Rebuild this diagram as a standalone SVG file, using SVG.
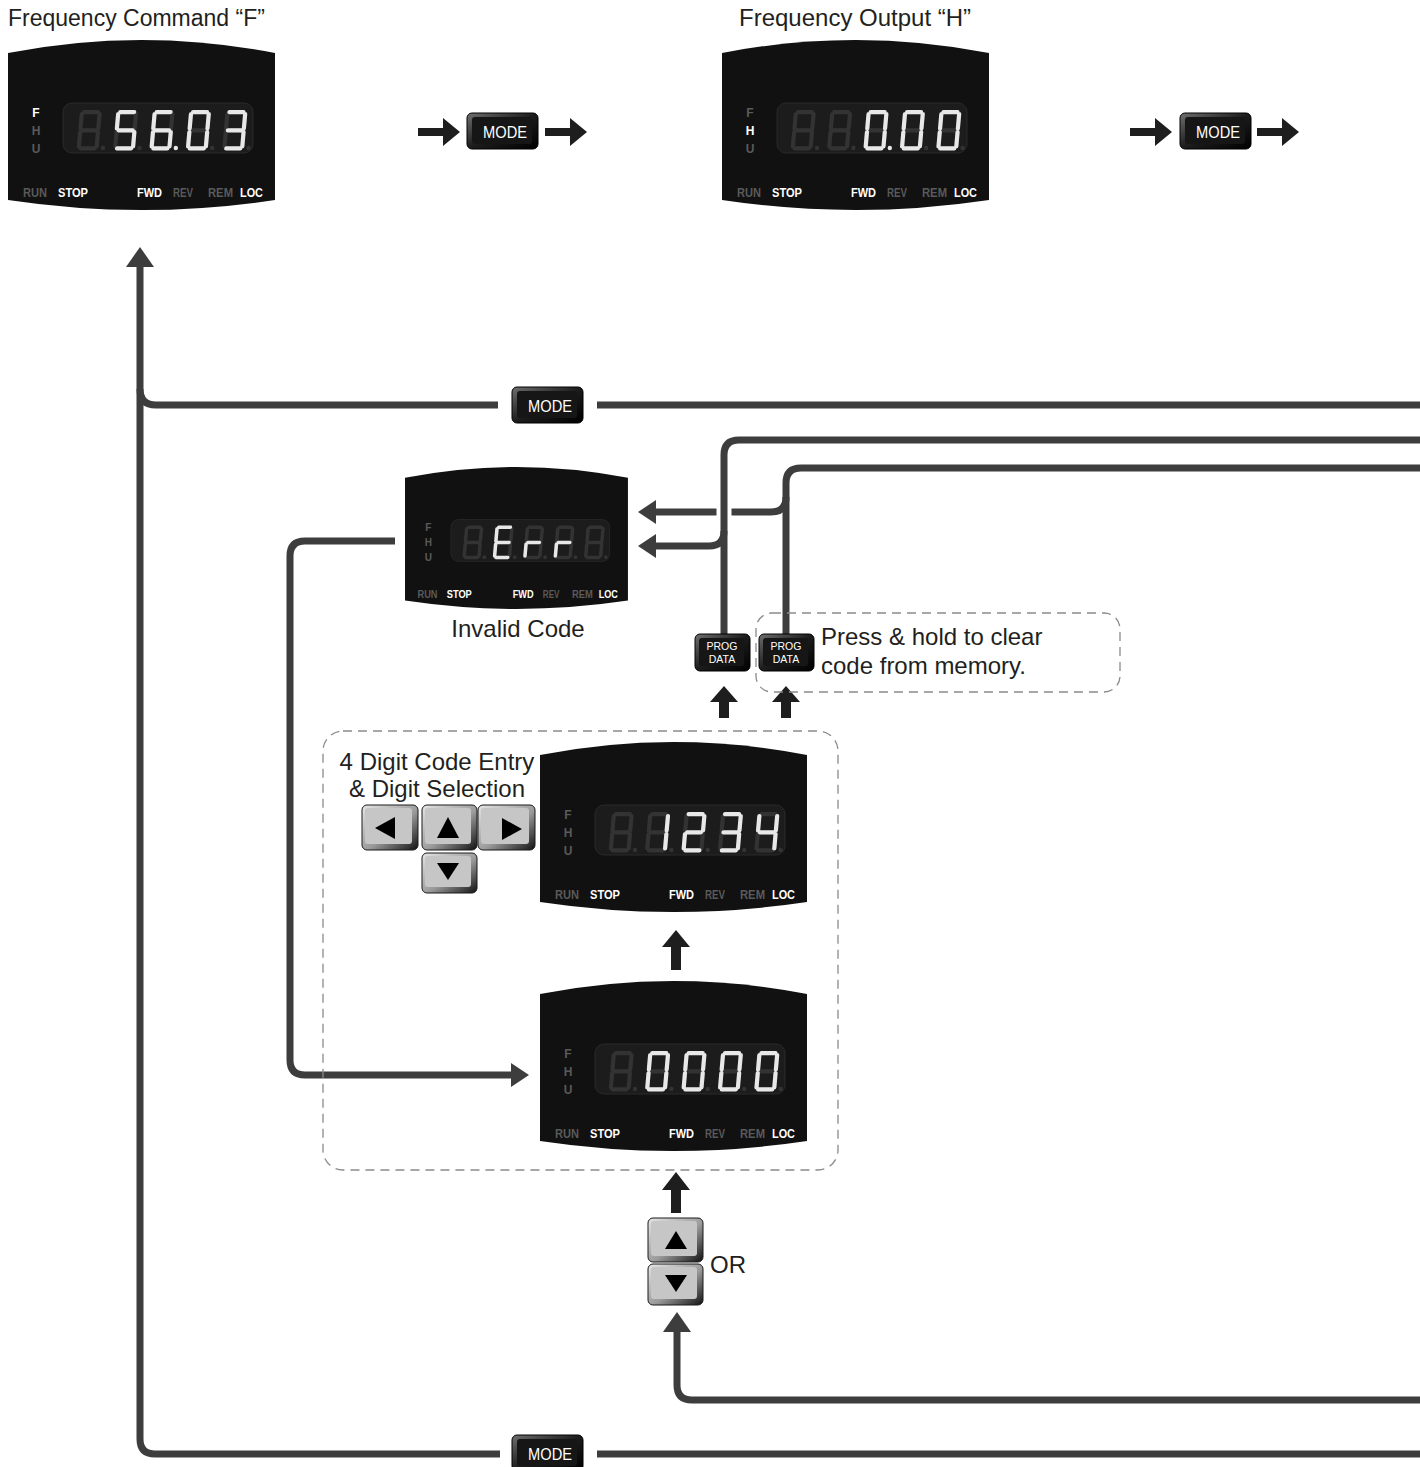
<svg xmlns="http://www.w3.org/2000/svg" xmlns:xlink="http://www.w3.org/1999/xlink" width="1420" height="1467" viewBox="0 0 1420 1467">
<style>
.t{font-family:"Liberation Sans",Arial,sans-serif;fill:#231f20;font-size:24px}
.ind{font-family:"Liberation Sans",Arial,sans-serif;font-weight:bold;font-size:12px;text-anchor:middle}
.st{font-family:"Liberation Sans",Arial,sans-serif;font-weight:bold;font-size:13px}
.on{fill:#ffffff}
.off{fill:#5a5a5a}
.body{fill:#111111}
.lcd{fill:#1c1c1c;stroke:#2a2a2a;stroke-width:1}
.seg{fill:none;stroke:#333333;stroke-width:4.2;stroke-linecap:round}
.lit{fill:none;stroke:#e8e8e8;stroke-width:4.2;stroke-linecap:round}
.dotoff{fill:#333333}
.doton{fill:#e8e8e8}
.conn{fill:none;stroke:#3d3d3d;stroke-width:7}
.ah{fill:#3d3d3d}
.blk{fill:#1e1e1e}
.dash{fill:none;stroke:#8a8a8a;stroke-width:1.3;stroke-dasharray:9 6}
.btn{fill:url(#btnG);stroke:#000;stroke-width:1}
.btnface{fill:#161616}
.btxt{font-family:"Liberation Sans",Arial,sans-serif;fill:#fff;text-anchor:middle}
.key{fill:url(#keyG);stroke:#1a1a1a;stroke-width:1}
.keyface{fill:#c6c6c6}
.tri{fill:#000}
</style>
<defs>
<linearGradient id="btnG" x1="0" y1="0" x2="1" y2="1">
<stop offset="0" stop-color="#707070"/>
<stop offset="0.5" stop-color="#1c1c1c"/>
<stop offset="1" stop-color="#000"/>
</linearGradient>
<linearGradient id="keyG" x1="0" y1="0" x2="1" y2="1">
<stop offset="0" stop-color="#e6e6e6"/>
<stop offset="0.55" stop-color="#9a9a9a"/>
<stop offset="1" stop-color="#111"/>
</linearGradient>
<path id="body" d="M0,13 Q133.5,-13 267,13 L267,160 Q133.5,180 0,160 Z"/>
<path id="d8" d="M4,2.1H18M2.1,4V18.5M19.9,4V18.5M4,20.3H18M2.1,22.1V36.5M19.9,22.1V36.5M4,38.4H18"/>
<path id="g0" d="M4,2.1H18M2.1,4V18.5M19.9,4V18.5M2.1,22.1V36.5M19.9,22.1V36.5M4,38.4H18"/>
<path id="g1" d="M19.9,4V18.5M19.9,22.1V36.5"/>
<path id="g2" d="M4,2.1H18M19.9,4V18.5M4,20.3H18M2.1,22.1V36.5M4,38.4H18"/>
<path id="g3" d="M4,2.1H18M19.9,4V18.5M4,20.3H18M19.9,22.1V36.5M4,38.4H18"/>
<path id="g4" d="M2.1,4V18.5M19.9,4V18.5M4,20.3H18M19.9,22.1V36.5"/>
<path id="g5" d="M4,2.1H18M2.1,4V18.5M4,20.3H18M19.9,22.1V36.5M4,38.4H18"/>
<path id="g6" d="M4,2.1H18M2.1,4V18.5M4,20.3H18M2.1,22.1V36.5M19.9,22.1V36.5M4,38.4H18"/>
<path id="gE" d="M4,2.1H18M2.1,4V18.5M4,20.3H18M2.1,22.1V36.5M4,38.4H18"/>
<path id="gr" d="M4,20.3H18M2.1,22.1V36.5"/>
<g id="dim5">
<use href="#d8" class="seg" transform="translate(72,0) skewX(-5)"/>
<use href="#d8" class="seg" transform="translate(108.4,0) skewX(-5)"/>
<use href="#d8" class="seg" transform="translate(144.8,0) skewX(-5)"/>
<use href="#d8" class="seg" transform="translate(181.2,0) skewX(-5)"/>
<use href="#d8" class="seg" transform="translate(217.6,0) skewX(-5)"/>
<circle class="dotoff" cx="95" cy="38" r="2.2"/>
<circle class="dotoff" cx="131.4" cy="38" r="2.2"/>
<circle class="dotoff" cx="167.8" cy="38" r="2.2"/>
<circle class="dotoff" cx="204.2" cy="38" r="2.2"/>
<circle class="dotoff" cx="240.6" cy="38" r="2.2"/>
</g>
</defs>

<rect width="1420" height="1467" fill="#fff"/>

<!-- titles -->
<text class="t" x="8" y="26" style="font-size:23px">Frequency Command “F”</text>
<text class="t" x="739" y="26">Frequency Output “H”</text>

<!-- connectors -->
<g id="connectors">
<path class="conn" d="M140,266 V1439 Q140,1454 155,1454 H500"/>
<path class="conn" d="M597,1454 H1420"/>
<path class="conn" d="M498,405 H156 Q140,405 140,389"/>
<path class="conn" d="M597,405 H1420"/>
<polygon class="ah" points="140,247 126,267 154,267"/>
<path class="conn" d="M1420,468 H801 Q786,468 786,483 V634"/>
<path class="conn" d="M786,497 Q786,512 771,512 H655"/>
<polygon class="ah" points="638,512 656,500 656,524"/>
<line x1="724" y1="500" x2="724" y2="524" stroke="#fff" stroke-width="15"/>
<path class="conn" d="M1420,440 H739 Q724,440 724,455 V634"/>
<path class="conn" d="M724,531 Q724,546 709,546 H655"/>
<polygon class="ah" points="638,546 656,534 656,558"/>
<path class="conn" d="M395,541 H305 Q290,541 290,556 V1060 Q290,1075 305,1075 H512"/>
<polygon class="ah" points="529,1075 511,1063 511,1087"/>
<path class="conn" d="M1420,1400 H692 Q677,1400 677,1385 V1329"/>
<polygon class="ah" points="677,1312 663,1332 691,1332"/>
<path class="blk" d="M418,128 H443 V118 L460,132 L443,146 V136 H418 Z"/>
<path class="blk" d="M545,128 H570 V118 L587,132 L570,146 V136 H545 Z"/>
<path class="blk" d="M1130,128 H1155 V118 L1172,132 L1155,146 V136 H1130 Z"/>
<path class="blk" d="M1257,128 H1282 V118 L1299,132 L1282,146 V136 H1257 Z"/>
<path class="blk" d="M671,970 V947 H662 L676,930 L690,947 H681 V970 Z"/>
<path class="blk" d="M671,1213 V1190 H662 L676,1172 L690,1190 H681 V1213 Z"/>
<path class="blk" d="M719,718 V702 H710 L724,686 L738,702 H729 V718 Z"/>
<path class="blk" d="M781,718 V702 H772 L786,686 L800,702 H791 V718 Z"/>
</g>

<!-- dashed groupings -->
<rect class="dash" x="756" y="613" width="364" height="79" rx="16"/>
<rect class="dash" x="323" y="731" width="515" height="439" rx="20"/>

<!-- Display: Frequency Command -->
<g id="disp-freq-cmd" transform="translate(8,40)">
<use href="#body" class="body"/>
<rect class="lcd" x="55" y="63" width="190" height="50" rx="9"/>
<g transform="translate(0,70)">
<use href="#dim5"/>
<use href="#g5" class="lit" transform="translate(108.4,0) skewX(-5)"/>
<use href="#g6" class="lit" transform="translate(144.8,0) skewX(-5)"/>
<use href="#g0" class="lit" transform="translate(181.2,0) skewX(-5)"/>
<use href="#g3" class="lit" transform="translate(217.6,0) skewX(-5)"/>
<circle class="doton" cx="167.8" cy="38" r="2.2"/>
</g>
<text class="ind on" x="28" y="77">F</text>
<text class="ind off" x="28" y="95">H</text>
<text class="ind off" x="28" y="113">U</text>
<text class="st off" x="15" y="157" textLength="24" lengthAdjust="spacingAndGlyphs">RUN</text>
<text class="st on" x="50" y="157" textLength="30" lengthAdjust="spacingAndGlyphs">STOP</text>
<text class="st on" x="129" y="157" textLength="25" lengthAdjust="spacingAndGlyphs">FWD</text>
<text class="st off" x="165" y="157" textLength="20" lengthAdjust="spacingAndGlyphs">REV</text>
<text class="st off" x="200" y="157" textLength="25" lengthAdjust="spacingAndGlyphs">REM</text>
<text class="st on" x="232" y="157" textLength="23" lengthAdjust="spacingAndGlyphs">LOC</text>
</g>

<!-- MODE 1 -->
<g id="mode-1">
<rect class="btn" x="467" y="113" width="71" height="36" rx="5"/>
<rect class="btnface" x="472" y="117" width="60" height="27" rx="3"/>
<text class="btxt" x="505" y="138" font-size="17" textLength="44" lengthAdjust="spacingAndGlyphs">MODE</text>
</g>

<!-- Display: Frequency Output -->
<g id="disp-freq-out" transform="translate(722,40)">
<use href="#body" class="body"/>
<rect class="lcd" x="55" y="63" width="190" height="50" rx="9"/>
<g transform="translate(0,70)">
<use href="#dim5"/>
<use href="#g0" class="lit" transform="translate(144.8,0) skewX(-5)"/>
<use href="#g0" class="lit" transform="translate(181.2,0) skewX(-5)"/>
<use href="#g0" class="lit" transform="translate(217.6,0) skewX(-5)"/>
<circle class="doton" cx="167.8" cy="38" r="2.2"/>
</g>
<text class="ind off" x="28" y="77">F</text>
<text class="ind on" x="28" y="95">H</text>
<text class="ind off" x="28" y="113">U</text>
<text class="st off" x="15" y="157" textLength="24" lengthAdjust="spacingAndGlyphs">RUN</text>
<text class="st on" x="50" y="157" textLength="30" lengthAdjust="spacingAndGlyphs">STOP</text>
<text class="st on" x="129" y="157" textLength="25" lengthAdjust="spacingAndGlyphs">FWD</text>
<text class="st off" x="165" y="157" textLength="20" lengthAdjust="spacingAndGlyphs">REV</text>
<text class="st off" x="200" y="157" textLength="25" lengthAdjust="spacingAndGlyphs">REM</text>
<text class="st on" x="232" y="157" textLength="23" lengthAdjust="spacingAndGlyphs">LOC</text>
</g>

<!-- MODE 2 -->
<g id="mode-2">
<rect class="btn" x="1180" y="113" width="71" height="36" rx="5"/>
<rect class="btnface" x="1185" y="117" width="60" height="27" rx="3"/>
<text class="btxt" x="1218" y="138" font-size="17" textLength="44" lengthAdjust="spacingAndGlyphs">MODE</text>
</g>

<!-- MODE 3 (loop top) -->
<g id="mode-3">
<rect class="btn" x="512" y="387" width="71" height="36" rx="5"/>
<rect class="btnface" x="517" y="391" width="60" height="27" rx="3"/>
<text class="btxt" x="550" y="412" font-size="17" textLength="44" lengthAdjust="spacingAndGlyphs">MODE</text>
</g>

<!-- MODE 4 (loop bottom) -->
<g id="mode-4">
<rect class="btn" x="512" y="1435" width="71" height="36" rx="5"/>
<rect class="btnface" x="517" y="1439" width="60" height="27" rx="3"/>
<text class="btxt" x="550" y="1460" font-size="17" textLength="44" lengthAdjust="spacingAndGlyphs">MODE</text>
</g>

<!-- Display: Err -->
<g id="disp-err" transform="translate(405,467) scale(0.835)">
<use href="#body" class="body"/>
<rect class="lcd" x="55" y="63" width="190" height="50" rx="9"/>
<g transform="translate(0,70)">
<use href="#dim5"/>
<use href="#gE" class="lit" transform="translate(108.4,0) skewX(-5)"/>
<use href="#gr" class="lit" transform="translate(144.8,0) skewX(-5)"/>
<use href="#gr" class="lit" transform="translate(181.2,0) skewX(-5)"/>
</g>
<text class="ind off" x="28" y="77">F</text>
<text class="ind off" x="28" y="95">H</text>
<text class="ind off" x="28" y="113">U</text>
<text class="st off" x="15" y="157" textLength="24" lengthAdjust="spacingAndGlyphs">RUN</text>
<text class="st on" x="50" y="157" textLength="30" lengthAdjust="spacingAndGlyphs">STOP</text>
<text class="st on" x="129" y="157" textLength="25" lengthAdjust="spacingAndGlyphs">FWD</text>
<text class="st off" x="165" y="157" textLength="20" lengthAdjust="spacingAndGlyphs">REV</text>
<text class="st off" x="200" y="157" textLength="25" lengthAdjust="spacingAndGlyphs">REM</text>
<text class="st on" x="232" y="157" textLength="23" lengthAdjust="spacingAndGlyphs">LOC</text>
</g>
<text class="t" x="518" y="637" text-anchor="middle">Invalid Code</text>

<!-- PROG DATA buttons -->
<g id="prog-1">
<rect class="btn" x="695" y="634" width="55" height="37" rx="5"/>
<rect class="btnface" x="699" y="638" width="45" height="28" rx="3"/>
<text class="btxt" x="722" y="650" font-size="10.5">PROG</text>
<text class="btxt" x="722" y="663" font-size="10.5">DATA</text>
</g>
<g id="prog-2">
<rect class="btn" x="759" y="634" width="55" height="37" rx="5"/>
<rect class="btnface" x="763" y="638" width="45" height="28" rx="3"/>
<text class="btxt" x="786" y="650" font-size="10.5">PROG</text>
<text class="btxt" x="786" y="663" font-size="10.5">DATA</text>
</g>
<text class="t" x="821" y="645">Press &amp; hold to clear</text>
<text class="t" x="821" y="674">code from memory.</text>

<!-- Code entry keys -->
<g id="digit-keys">
<text class="t" x="437" y="770" text-anchor="middle">4 Digit Code Entry</text>
<text class="t" x="437" y="797" text-anchor="middle">&amp; Digit Selection</text>
<rect class="key" x="362" y="805" width="56" height="45" rx="5"/>
<rect class="keyface" x="365" y="808" width="47" height="36" rx="3"/>
<polygon class="tri" points="375,828 395,817 395,839"/>
<rect class="key" x="422" y="805" width="55" height="45" rx="5"/>
<rect class="keyface" x="425" y="808" width="46" height="36" rx="3"/>
<polygon class="tri" points="448,817 459,838 437,838"/>
<rect class="key" x="478" y="805" width="57" height="45" rx="5"/>
<rect class="keyface" x="481" y="808" width="48" height="36" rx="3"/>
<polygon class="tri" points="522,829 502,818 502,840"/>
<rect class="key" x="422" y="853" width="55" height="40" rx="5"/>
<rect class="keyface" x="425" y="856" width="46" height="31" rx="3"/>
<polygon class="tri" points="448,880 459,863 437,863"/>
</g>

<!-- Display: 1234 -->
<g id="disp-1234" transform="translate(540,742)">
<use href="#body" class="body"/>
<rect class="lcd" x="55" y="63" width="190" height="50" rx="9"/>
<g transform="translate(0,70)">
<use href="#dim5"/>
<use href="#g1" class="lit" transform="translate(108.4,0) skewX(-5)"/>
<use href="#g2" class="lit" transform="translate(144.8,0) skewX(-5)"/>
<use href="#g3" class="lit" transform="translate(181.2,0) skewX(-5)"/>
<use href="#g4" class="lit" transform="translate(217.6,0) skewX(-5)"/>
</g>
<text class="ind off" x="28" y="77">F</text>
<text class="ind off" x="28" y="95">H</text>
<text class="ind off" x="28" y="113">U</text>
<text class="st off" x="15" y="157" textLength="24" lengthAdjust="spacingAndGlyphs">RUN</text>
<text class="st on" x="50" y="157" textLength="30" lengthAdjust="spacingAndGlyphs">STOP</text>
<text class="st on" x="129" y="157" textLength="25" lengthAdjust="spacingAndGlyphs">FWD</text>
<text class="st off" x="165" y="157" textLength="20" lengthAdjust="spacingAndGlyphs">REV</text>
<text class="st off" x="200" y="157" textLength="25" lengthAdjust="spacingAndGlyphs">REM</text>
<text class="st on" x="232" y="157" textLength="23" lengthAdjust="spacingAndGlyphs">LOC</text>
</g>

<!-- Display: 0000 -->
<g id="disp-0000" transform="translate(540,981)">
<use href="#body" class="body"/>
<rect class="lcd" x="55" y="63" width="190" height="50" rx="9"/>
<g transform="translate(0,70)">
<use href="#dim5"/>
<use href="#g0" class="lit" transform="translate(108.4,0) skewX(-5)"/>
<use href="#g0" class="lit" transform="translate(144.8,0) skewX(-5)"/>
<use href="#g0" class="lit" transform="translate(181.2,0) skewX(-5)"/>
<use href="#g0" class="lit" transform="translate(217.6,0) skewX(-5)"/>
</g>
<text class="ind off" x="28" y="77">F</text>
<text class="ind off" x="28" y="95">H</text>
<text class="ind off" x="28" y="113">U</text>
<text class="st off" x="15" y="157" textLength="24" lengthAdjust="spacingAndGlyphs">RUN</text>
<text class="st on" x="50" y="157" textLength="30" lengthAdjust="spacingAndGlyphs">STOP</text>
<text class="st on" x="129" y="157" textLength="25" lengthAdjust="spacingAndGlyphs">FWD</text>
<text class="st off" x="165" y="157" textLength="20" lengthAdjust="spacingAndGlyphs">REV</text>
<text class="st off" x="200" y="157" textLength="25" lengthAdjust="spacingAndGlyphs">REM</text>
<text class="st on" x="232" y="157" textLength="23" lengthAdjust="spacingAndGlyphs">LOC</text>
</g>

<!-- Up / Down OR -->
<g id="updown-keys">
<rect class="key" x="648" y="1218" width="55" height="44" rx="5"/>
<rect class="keyface" x="651" y="1221" width="46" height="35" rx="3"/>
<polygon class="tri" points="676,1231 687,1249 665,1249"/>
<rect class="key" x="648" y="1264" width="55" height="41" rx="5"/>
<rect class="keyface" x="651" y="1267" width="46" height="32" rx="3"/>
<polygon class="tri" points="676,1292 687,1275 665,1275"/>
<text class="t" x="710" y="1273">OR</text>
</g>
</svg>
